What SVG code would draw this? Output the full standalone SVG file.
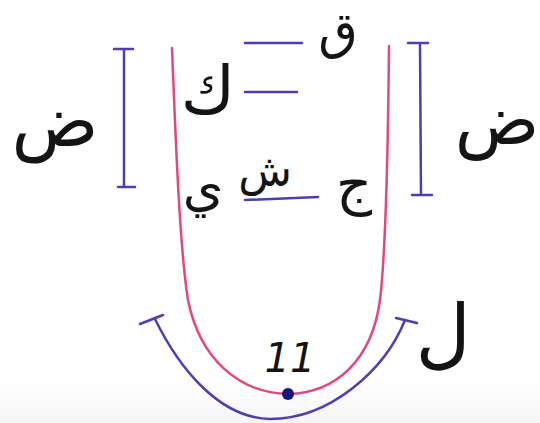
<svg xmlns="http://www.w3.org/2000/svg" width="540" height="423" viewBox="0 0 540 423">
<defs>
<linearGradient id="bg" x1="0" y1="0" x2="0" y2="1">
<stop offset="0" stop-color="#ffffff"/>
<stop offset="0.9" stop-color="#ffffff"/>
<stop offset="1" stop-color="#f5f5f5"/>
</linearGradient>
</defs>
<style>
.ar{font-family:"DejaVu Sans","Noto Sans",sans-serif;fill:#141414;text-anchor:middle}
.pink{fill:none;stroke:#e2487c;stroke-width:2.5;stroke-linecap:round}
.blue{fill:none;stroke:#4c3fb4;stroke-width:2.5;stroke-linecap:round}
.num{font-family:"DejaVu Sans",sans-serif;font-style:italic;fill:#141414;text-anchor:middle}
</style>
<rect width="540" height="423" fill="url(#bg)"/>
<g id="connectors">
<path class="pink" d="M172,48 C176,150 180,250 188,300 C200,360 240,393 288,394 C336,393 372,360 380,300 C386,250 388,150 389,46"/>
<path class="blue" d="M155,319 C180,370 220,418 270,419 C330,419 385,370 405,320"/>
<path class="blue" d="M140,324 L163,315"/>
<path class="blue" d="M396,318 L417,323"/>
<path class="blue" d="M124,49 L124,187 M114,49 L133,49 M118,187 L135,187"/>
<path class="blue" d="M420,43 L421,195 M408,43 L428,43 M412,195 L432,195"/>
<path class="blue" d="M245,43 L302,43"/>
<path class="blue" d="M245,92 L297,92"/>
<path class="blue" d="M245,200 L318,197"/>
</g>
<g id="dot"><circle cx="288" cy="394" r="6" fill="#15157a"/></g>
<g id="dad-left"><text class="ar" x="55" y="146" font-size="72">ض</text></g>
<g id="dad-right"><text class="ar" x="497" y="144" font-size="70">ض</text></g>
<g id="qaf"><text class="ar" x="338" y="48" font-size="51">ق</text></g>
<g id="kaf"><text class="ar" x="208" y="113" font-size="66">ك</text></g>
<g id="ya"><text class="ar" x="203" y="205" font-size="52">ي</text></g>
<g id="shin"><text class="ar" x="265" y="186" font-size="44">ش</text></g>
<g id="jim"><text class="ar" x="354" y="203" font-size="56">ج</text></g>
<g id="lam"><text class="ar" x="443" y="359" font-size="76">ل</text></g>
<g id="label-11"><text class="num" x="290" y="372" font-size="40">11</text></g>
</svg>
